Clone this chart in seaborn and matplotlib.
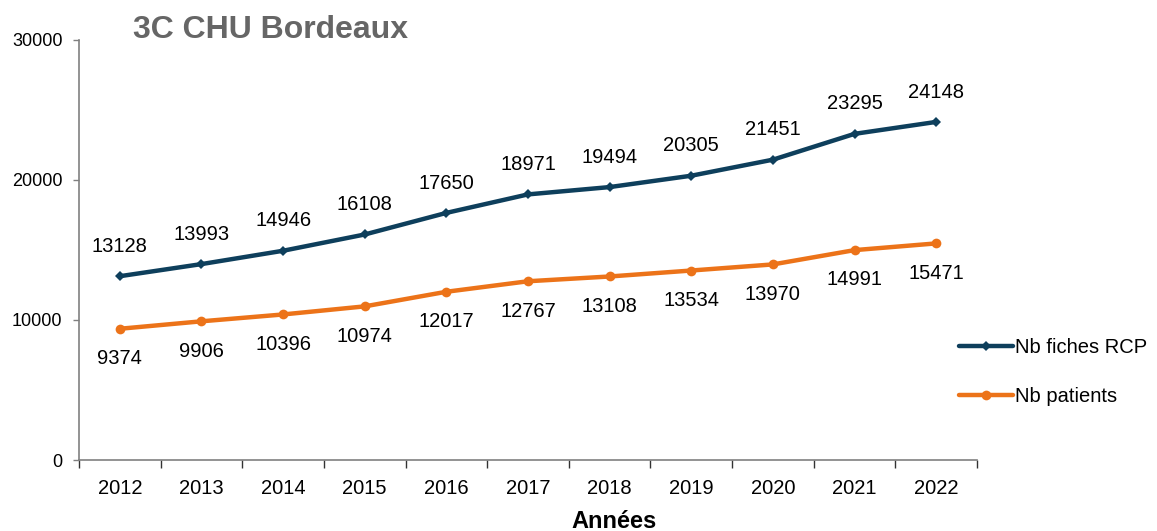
import matplotlib
matplotlib.use("Agg")
import matplotlib.pyplot as plt
import seaborn as sns
import pandas as pd
from matplotlib.ticker import FixedLocator, NullFormatter, FixedFormatter

years = ["2012", "2013", "2014", "2015", "2016", "2017", "2018", "2019", "2020", "2021", "2022"]
fiches_rcp = [13128, 13993, 14946, 16108, 17650, 18971, 19494, 20305, 21451, 23295, 24148]
patients = [9374, 9906, 10396, 10974, 12017, 12767, 13108, 13534, 13970, 14991, 15471]
y_ticks = [0, 10000, 20000, 30000]
title = "3C CHU Bordeaux"
xlabel = "Années"
series_names = ["Nb fiches RCP", "Nb patients"]

sns.set_theme(style="white")
plt.rcParams["font.family"] = ["Liberation Sans", "DejaVu Sans"]

fig = plt.figure(figsize=(11.57, 5.31), dpi=100)
ax = fig.add_axes([0.0683, 0.1337, 0.7761, 0.791])

pos = list(range(len(years)))
df = pd.DataFrame({"pos": pos, "fiches": fiches_rcp, "patients": patients})

blue = "#0E3F5C"
orange = "#EC7319"
sns.lineplot(data=df, x="pos", y="fiches", ax=ax, color=blue, linewidth=3.2,
             marker="D", markersize=5.5, markeredgewidth=0, label=series_names[0])
sns.lineplot(data=df, x="pos", y="patients", ax=ax, color=orange, linewidth=3.2,
             marker="o", markersize=7, markeredgewidth=0, label=series_names[1])

for i, v in enumerate(fiches_rcp):
    ax.annotate(str(v), (i, v), xytext=(0, 21.5), textcoords="offset points",
                ha="center", va="center", fontsize=14.5, color="black")
for i, v in enumerate(patients):
    ax.annotate(str(v), (i, v), xytext=(0, -21.5), textcoords="offset points",
                ha="center", va="center", fontsize=14.5, color="black")

ax.set_xlim(-0.5, len(years) - 0.5)
ax.set_ylim(0, 30000)
ax.set_yticks(y_ticks)
ax.set_yticklabels([str(t) for t in y_ticks], fontsize=13)

ax.xaxis.set_major_locator(FixedLocator([p - 0.5 for p in pos] + [len(years) - 0.5]))
ax.xaxis.set_major_formatter(NullFormatter())
ax.xaxis.set_minor_locator(FixedLocator(pos))
ax.xaxis.set_minor_formatter(FixedFormatter(years))
ax.tick_params(axis="x", which="major", length=6, width=1, color="#333333", direction="out", bottom=True)
ax.tick_params(axis="x", which="minor", length=0, labelsize=14.5, pad=14, labelcolor="black", bottom=True)
ax.tick_params(axis="y", length=4, width=1, color="#808080", direction="out", left=True, labelsize=13, pad=8, labelcolor="black")

for s in ["top", "right"]:
    ax.spines[s].set_visible(False)
ax.spines["left"].set_color("#808080")
ax.spines["bottom"].set_color("#808080")
ax.spines["left"].set_linewidth(1.2)
ax.spines["bottom"].set_linewidth(1.2)
ax.grid(False)

ax.set_ylabel("")
ax.set_xlabel(xlabel, fontsize=17, fontweight="bold", color="black", labelpad=10)
ax.xaxis.set_label_coords(0.596, -0.118)

fig.text(0.115, 0.943, title, fontsize=23, fontweight="bold", color="#666666",
         ha="left", va="center")

leg = ax.legend(loc="center left", bbox_to_anchor=(0.822, 0.30), bbox_transform=fig.transFigure,
                frameon=False, fontsize=14.5, handlelength=2.7, handletextpad=0.1,
                labelspacing=1.5, borderaxespad=0)
for t in leg.get_texts():
    t.set_color("black")

fig.savefig("out.png", dpi=100)
